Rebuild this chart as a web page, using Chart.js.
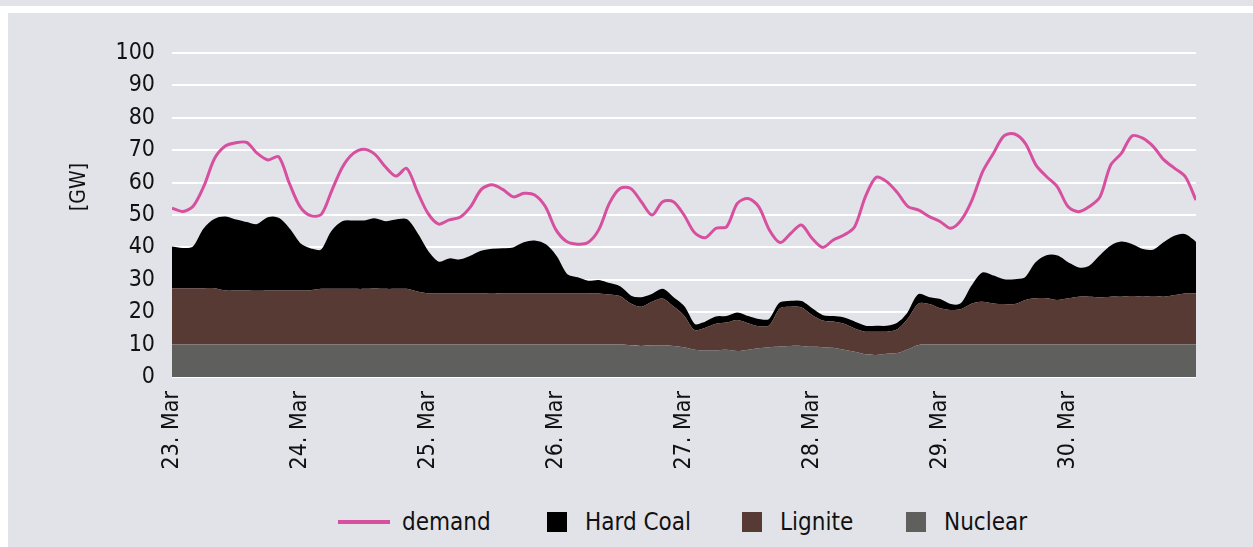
<!DOCTYPE html>
<html lang="en">
  <head>
    <meta charset="UTF-8" />
    <title>Demand and generation</title>
    <style>
      body {
        margin: 0;
        width: 1253px;
        height: 547px;
        overflow: hidden;
        background: #e2e3e8;
        position: relative;
        font-family: "Liberation Sans Narrow", "DejaVu Sans Condensed", "Liberation Sans", sans-serif;
      }
      .band-top { position: absolute; left: 0; top: 6px; width: 1253px; height: 7px; background: #fff; }
      .band-left { position: absolute; left: 0; top: 6px; width: 8px; height: 541px; background: #fff; }
      .container { position: absolute; left: 8px; top: 13px; width: 1245px; height: 474px; }
      .legend { position: absolute; left: 0; top: 507px; width: 1253px; height: 30px; }
      .legend span { position: absolute; top: 0; display: flex; align-items: center; height: 30px; font-size: 24px; color: #111; white-space: nowrap; }
      .legend i { display: inline-block; margin-right: 18px; }
      .legend i.line { width: 52px; height: 4px; margin-right: 12px; }
      .legend i.box { width: 20px; height: 20px; }
    </style>
  </head>
  <body>
    <div class="band-top"></div>
    <div class="band-left"></div>
    <div class="container">
      <canvas id="myChart"></canvas>
    </div>
    <div class="legend">
      <span style="left: 338px"><i class="line" style="background: #d6509f"></i>demand</span>
      <span style="left: 547px"><i class="box" style="background: #000"></i>Hard Coal</span>
      <span style="left: 742px"><i class="box" style="background: #583a35"></i>Lignite</span>
      <span style="left: 906px"><i class="box" style="background: #5f5f5d"></i>Nuclear</span>
    </div>
    <script src="https://cdn.jsdelivr.net/npm/chart.js@4.4.1/dist/chart.umd.min.js"></script>
    <script>
      // one value every 2 hours, 23 Mar 00:00 .. 31 Mar 00:00
      const STEP_H = 2;
      const dayLabels = ["23. Mar", "24. Mar", "25. Mar", "26. Mar", "27. Mar", "28. Mar", "29. Mar", "30. Mar"];
      const yTitle = "[GW]";
      const FONT = '"Liberation Sans Narrow", "DejaVu Sans Condensed", "Liberation Sans", sans-serif';

      const demand = [
        52.1, 51.1, 52.8, 59, 67.5, 71.3, 72.3, 72.4, 69, 67, 68, 59.8,
        52.6, 49.8, 50.2, 57.7, 64.9, 69, 70.3, 68.8, 64.9, 62, 64.4, 57.2,
        50.5, 47.2, 48.5, 49.3, 52.6, 57.9, 59.3, 57.9, 55.6, 56.7, 56.2, 52.6,
        45.4, 41.8, 41, 41.5, 45.4, 53.6, 58.2, 58.2, 54.1, 50, 54.1, 54.1,
        50, 44.5, 43, 45.9, 46.4, 53.6, 55.1, 52.6, 45.4, 41.5, 44.3, 46.9,
        42.8, 40, 42.3, 43.8, 46.4, 55.6, 61.6, 60.3, 56.9, 52.6, 51.5, 49.5,
        48, 45.9, 48.5, 54.6, 63.4, 69, 74.4, 75, 72.1, 65.4, 61.8, 58.7,
        52.6, 51, 52.6, 55.6, 65.4, 69, 74.4, 73.7, 71.1, 67, 64.4, 61.8,
        54.6
      ];

      const hardCoal = [
        12.6, 12.1, 12.6, 18.1, 21.1, 22.5, 21.6, 20.8, 20.3, 22.3, 22.1, 18.8,
        14.3, 12.6, 11.8, 17.6, 20.6, 20.8, 20.8, 21.4, 20.6, 21.1, 21.2, 17.6,
        12.7, 9.5, 10.5, 10.2, 11.3, 12.9, 13.4, 13.6, 13.9, 15.5, 16, 14.9,
        11.3, 5.7, 4.7, 3.6, 3.8, 3.2, 2.7, 2.1, 2.6, 2.1, 2.7, 2.5,
        2.5, 1.5, 1.6, 2.0, 1.7, 2.0, 1.9, 1.9, 1.6, 1.5, 1.5, 1.7,
        1.8, 1.4, 1.4, 1.7, 1.8, 1.5, 1.5, 1.5, 1.7, 1.5, 2.6, 1.8,
        2.6, 1.5, 1.5, 5.2, 8.8, 8.3, 7.4, 7.4, 6.7, 10.8, 13, 13.4,
        10.8, 8.7, 9.2, 12.6, 15.4, 16.7, 15.7, 14.4, 14, 16.5, 18, 18,
        15.5
      ];

      const lignite = [
        17.4, 17.4, 17.4, 17.4, 17.4, 16.7, 16.7, 16.7, 16.6, 16.7, 16.7, 16.7,
        16.7, 16.8, 17.2, 17.2, 17.2, 17.2, 17.2, 17.3, 17.2, 17.2, 17.2, 16.4,
        15.8, 15.8, 15.8, 15.8, 15.8, 15.8, 15.9, 15.8, 15.8, 15.8, 15.8, 15.8,
        15.8, 15.8, 15.8, 15.8, 15.8, 15.5, 15, 12.9, 12.1, 13.4, 14.4, 12.2,
        9.8, 6.1, 7.0, 8.2, 8.4, 9.6, 8.2, 6.8, 6.8, 11.8, 12.1, 11.9,
        9.8, 8.2, 8.1, 8.0, 7.2, 7.0, 7.2, 6.8, 7.3, 9.5, 12.8, 12.5,
        11.2, 10.7, 11, 12.7, 13.2, 12.7, 12.5, 12.5, 13.8, 14.3, 14.3, 13.8,
        14.3, 14.8, 14.8, 14.6, 14.8, 14.8, 15, 14.8, 15, 14.8, 15.3, 15.8,
        15.8
      ];

      const nuclear = [
        10, 10, 10, 10, 10, 10, 10, 10, 10, 10, 10, 10,
        10, 10, 10, 10, 10, 10, 10, 10, 10, 10, 10, 10,
        10, 10, 10, 10, 10, 10, 10, 10, 10, 10, 10, 10,
        10, 10, 10, 10, 10, 10, 10, 9.8, 9.6, 9.8, 9.8, 9.6,
        9.2, 8.4, 8.2, 8.2, 8.4, 8.0, 8.4, 8.9, 9.2, 9.4, 9.6, 9.6,
        9.3, 9.2, 9.0, 8.4, 7.8, 7.0, 6.8, 7.2, 7.4, 8.6, 9.9, 10,
        10, 10, 10, 10, 10, 10, 10, 10, 10, 10, 10, 10,
        10, 10, 10, 10, 10, 10, 10, 10, 10, 10, 10, 10,
        10
      ];

      const pts = (arr) => arr.map((v, i) => ({ x: i * STEP_H, y: v }));

      // "[GW]" sits above the middle of the axis in the original
      const gwTitle = {
        id: "gwTitle",
        afterDraw(chart) {
          const c = chart.ctx;
          c.save();
          c.translate(72, 174);
          c.rotate(-Math.PI / 2);
          c.font = "21px " + FONT;
          c.fillStyle = "#111";
          c.textAlign = "center";
          c.textBaseline = "middle";
          c.fillText(yTitle, 0, 0);
          c.restore();
        },
      };

      const ctx = document.getElementById("myChart").getContext("2d");
      const myChart = new Chart(ctx, {
        type: "line",
        data: {
          datasets: [
            {
              label: "demand",
              data: pts(demand),
              stack: "demand",
              borderColor: "#d6509f",
              borderWidth: 3,
              fill: false,
              tension: 0.3,
            },
            {
              label: "Nuclear",
              data: pts(nuclear),
              stack: "gen",
              borderWidth: 0,
              backgroundColor: "#5f5f5d",
              fill: "origin",
              tension: 0.3,
            },
            {
              label: "Lignite",
              data: pts(lignite),
              stack: "gen",
              borderWidth: 0,
              backgroundColor: "#583a35",
              fill: "-1",
              tension: 0.3,
            },
            {
              label: "Hard Coal",
              data: pts(hardCoal),
              stack: "gen",
              borderColor: "#000",
              borderWidth: 2,
              backgroundColor: "#000",
              fill: "-1",
              tension: 0.3,
            },
          ],
        },
        options: {
          responsive: true,
          maintainAspectRatio: false,
          animation: false,
          layout: { padding: { top: 40, right: 57, bottom: 0, left: 0 } },
          elements: { point: { radius: 0 } },
          plugins: {
            legend: { display: false },
            tooltip: { enabled: false },
          },
          scales: {
            x: {
              type: "linear",
              min: 0,
              max: 192,
              grid: { display: false },
              border: { display: false },
              ticks: {
                stepSize: 24,
                autoSkip: false,
                minRotation: 90,
                maxRotation: 90,
                padding: 6,
                color: "#111",
                font: { family: FONT, size: 23 },
                callback: (v) => dayLabels[v / 24],
              },
              afterFit: (s) => { s.height = 110; },
            },
            y: {
              stacked: true,
              min: 0,
              max: 100,
              grid: { color: "#ffffff", lineWidth: 2, drawTicks: false },
              border: { display: false },
              ticks: {
                stepSize: 10,
                autoSkip: false,
                padding: 17,
                color: "#111",
                font: { family: FONT, size: 23 },
              },
              afterFit: (s) => { s.width = 164; },
            },
          },
        },
        plugins: [gwTitle],
      });
    </script>
  </body>
</html>
